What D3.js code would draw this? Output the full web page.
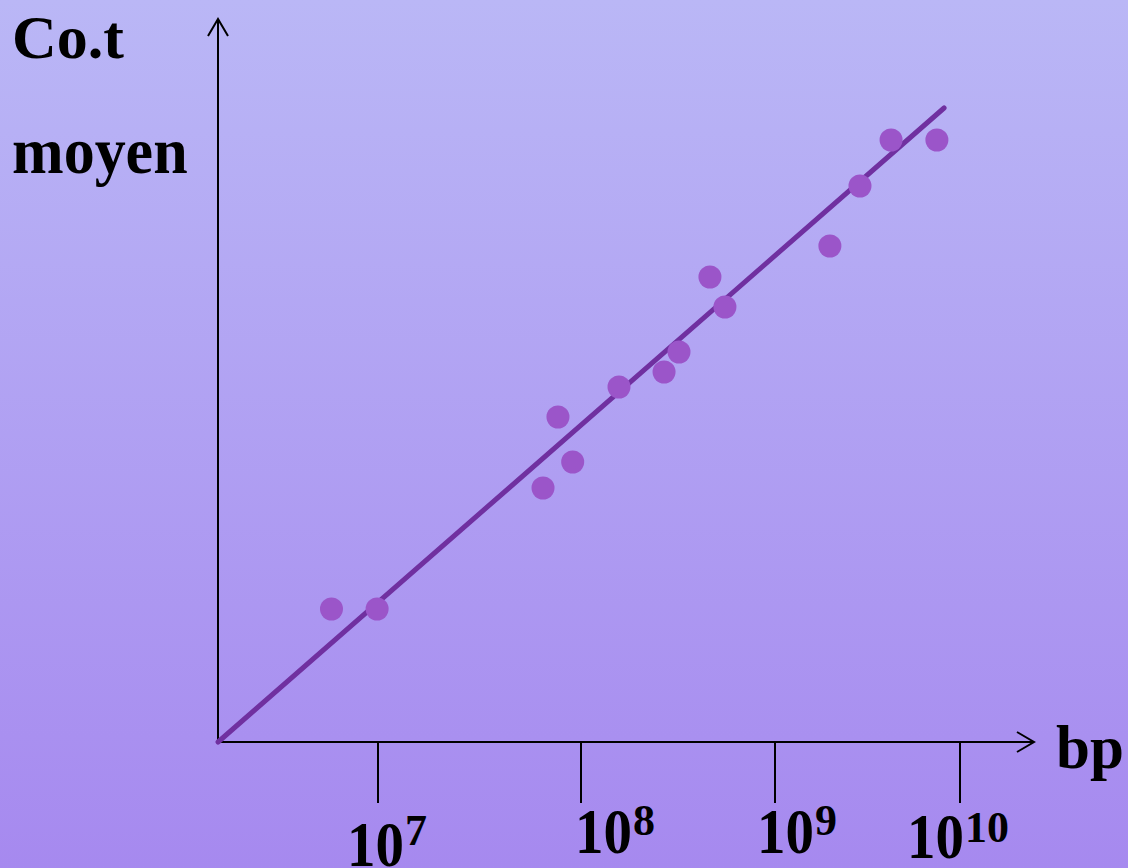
<!DOCTYPE html>
<html>
<head>
<meta charset="utf-8">
<script src="https://cdn.jsdelivr.net/npm/d3@7"></script>
<style>
  body { margin: 0; }
  svg { display: block; }
  text { font-family: "Liberation Serif", "Times New Roman", serif; font-weight: bold; fill: #000; }
</style>
</head>
<body>
<svg id="chart" width="1128" height="868"></svg>
<script>
// genome size (bp) vs mean Co.t
var genomeSize = [5.9e6, 9.9e6, 6.5e7, 7.7e7, 9.1e7, 1.57e8, 2.68e8, 3.2e8, 4.62e8, 5.52e8, 1.98e9, 2.88e9, 4.24e9, 7.5e9];
var cotMoyen   = [133, 133, 254, 325, 280, 355, 370, 390, 465, 435, 496, 556, 602, 602];
var fitStart = [1.63e6, 0];
var fitEnd   = [8.2e9, 634];
var tickExp  = [7, 8, 9, 10];

// label placement (the original labels sit a bit irregularly)
var labelDx   = [-31, -6, -18, -53];
var labelBase = [866, 853, 853, 858];

var svg = d3.select("#chart");
var W = 1128, H = 868;

var defs = svg.append("defs");
var grad = defs.append("linearGradient").attr("id", "bg").attr("x1", 0).attr("y1", 0).attr("x2", 0).attr("y2", 1);
grad.append("stop").attr("offset", "0%").attr("stop-color", "#bab7f6");
grad.append("stop").attr("offset", "100%").attr("stop-color", "#a689ef");
svg.append("rect").attr("width", W).attr("height", H).attr("fill", "url(#bg)");

// decades are not evenly spaced in the original drawing
var x = d3.scaleLinear().domain([7, 8, 9, 10]).range([378, 581, 775, 960]);
var y = d3.scaleLinear().domain([0, 700]).range([742, 42]);
var ox = 218, oy = 742;

var ax = svg.append("g").attr("stroke", "#000").attr("stroke-width", 2).attr("fill", "none");
ax.append("line").attr("x1", ox).attr("y1", oy).attr("x2", ox).attr("y2", 20);
ax.append("path").attr("d", "M" + (ox - 10) + ",36L" + ox + ",19L" + (ox + 10) + ",36");
ax.append("line").attr("x1", ox).attr("y1", oy).attr("x2", 1033).attr("y2", oy);
ax.append("path").attr("d", "M1017," + (oy - 10) + "L1034," + oy + "L1017," + (oy + 10));

ax.selectAll("line.tick").data(tickExp).enter().append("line")
  .attr("class", "tick")
  .attr("x1", function(d) { return x(d); }).attr("x2", function(d) { return x(d); })
  .attr("y1", oy).attr("y2", oy + 61);

var tl = svg.selectAll("g.tl").data(tickExp).enter().append("g").attr("class", "tl");
tl.append("text")
  .attr("transform", function(d, i) { return "translate(" + (x(d) + labelDx[i]) + "," + labelBase[i] + ") scale(1,1.12)"; })
  .style("font-size", "57px")
  .text("10");
tl.append("text")
  .attr("x", function(d, i) { return x(d) + labelDx[i] + 58; })
  .attr("y", function(d, i) { return labelBase[i] - (i == 0 ? 21 : i == 3 ? 16 : 18); })
  .style("font-size", "44px")
  .text(function(d) { return d; });

// fit line
svg.append("line")
  .attr("x1", x(Math.log10(fitStart[0]))).attr("y1", y(fitStart[1]))
  .attr("x2", x(Math.log10(fitEnd[0]))).attr("y2", y(fitEnd[1]))
  .attr("stroke", "#7030a0").attr("stroke-width", 5).attr("stroke-linecap", "round");

svg.selectAll("circle").data(genomeSize).enter().append("circle")
  .attr("cx", function(d) { return x(Math.log10(d)); })
  .attr("cy", function(d, i) { return y(cotMoyen[i]); })
  .attr("r", 11.5)
  .attr("fill", "#9b55c9");

svg.append("text").attr("x", 12).attr("y", 58).style("font-size", "62px").text("Co.t");
svg.append("text").attr("transform", "translate(12,173) scale(1,1.06)").style("font-size", "62px").text("moyen");
svg.append("text").attr("x", 1056).attr("y", 768).style("font-size", "61px").text("bp");
</script>
</body>
</html>
